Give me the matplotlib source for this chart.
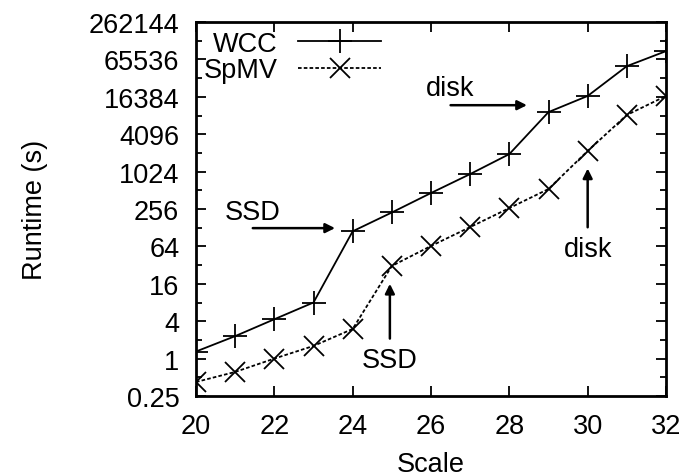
import numpy as np
import matplotlib
matplotlib.use("Agg")
import matplotlib.pyplot as plt
from matplotlib.ticker import FixedLocator, NullFormatter

# data (runtime in seconds, log2 axis)
scale = [20, 21, 22, 23, 24, 25, 26, 27, 28, 29, 30, 31, 32]
wcc = [1.3, 2.3, 4.3, 8, 112, 225, 463, 935, 1960, 9300, 16900, 51000, 89000]
spmv = [0.42, 0.61, 1.0, 1.6, 3.0, 31, 65, 131, 265, 537, 2200, 8350, 16900]

y_ticks = [0.25, 1, 4, 16, 64, 256, 1024, 4096, 16384, 65536, 262144]
y_labels = ["0.25", "1", "4", "16", "64", "256", "1024", "4096", "16384", "65536", "262144"]
x_ticks = [20, 22, 24, 26, 28, 30, 32]

plt.rcParams['font.family'] = ['Liberation Sans', 'DejaVu Sans']
plt.rcParams['font.size'] = 19.5

fig = plt.figure(figsize=(6.87, 4.77), dpi=100)
ax = fig.add_axes([196 / 687, 1 - 397 / 477, (666 - 196) / 687, (397 - 23) / 477])

ax.plot(scale, wcc, color='black', lw=1.3, marker='+', ms=17, mew=1.3, label='WCC')
ax.plot(scale, spmv, color='black', lw=1.3, ls=(0, (2, 1.2)), marker='x', ms=14, mew=1.3,
        label='SpMV')

ax.set_yscale('log', base=2)
ax.set_ylim(0.25, 262144)
ax.set_xlim(20, 32)
ax.yaxis.set_major_locator(FixedLocator(y_ticks))
ax.set_yticklabels(y_labels)
ax.yaxis.set_minor_locator(FixedLocator([2.0 ** k for k in range(-1, 18, 2)]))
ax.yaxis.set_minor_formatter(NullFormatter())
ax.set_xticks(x_ticks)

ax.tick_params(which='both', direction='in', top=True, right=True, width=1.3)
ax.tick_params(which='major', length=7)
ax.tick_params(axis='y', which='major', pad=12)
ax.tick_params(axis='x', which='major', pad=12)
ax.tick_params(which='minor', length=4)
for sp in ax.spines.values():
    sp.set_linewidth(2)

ax.set_xlabel('Scale', labelpad=9)
ax.set_ylabel('Runtime (s)', labelpad=29)

arrow = dict(arrowstyle='-|>', color='black', lw=1.8, mutation_scale=14, shrinkA=0, shrinkB=0)
# upper annotations
ax.annotate('', xy=(28.45, 12000), xytext=(26.5, 12000), arrowprops=arrow)
ax.text(26.5, 23000, 'disk', ha='center', va='center')
ax.annotate('', xy=(23.55, 126), xytext=(21.45, 126), arrowprops=arrow)
ax.text(21.45, 230, 'SSD', ha='center', va='center')
# lower annotations
ax.annotate('', xy=(24.95, 16), xytext=(24.95, 2.1), arrowprops=arrow)
ax.text(24.95, 0.95, 'SSD', ha='center', va='center')
ax.annotate('', xy=(30.0, 1150), xytext=(30.0, 130), arrowprops=arrow)
ax.text(30.0, 58, 'disk', ha='center', va='center')

leg = ax.legend(loc='upper left', frameon=False, markerfirst=False, handlelength=3.05,
                borderaxespad=0.0, borderpad=0.0, labelspacing=0.02, handletextpad=0.75,
                bbox_to_anchor=(0.017, 0.977))

fig.savefig('out.png', dpi=100)
